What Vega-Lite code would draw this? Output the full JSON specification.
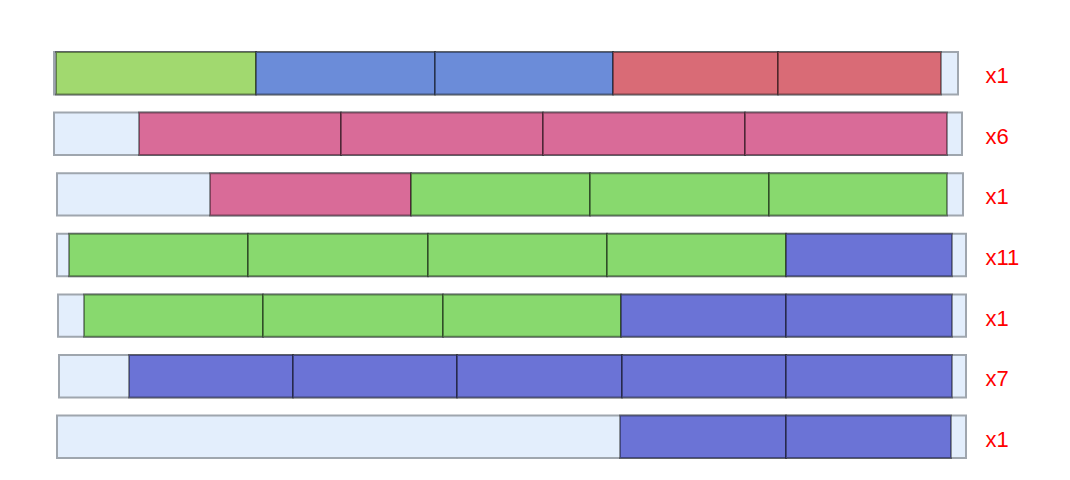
{
  "$schema": "https://vega.github.io/schema/vega-lite/v6.json",
  "width": 966,
  "height": 480,
  "autosize": "none",
  "padding": {"left": 0, "top": 0, "right": 104, "bottom": 0},
  "background": "white",
  "config": {"view": {"stroke": null}},
  "datasets": {
    "bars": [
      {"row": "1|x1", "start": 54, "end": 958},
      {"row": "2|x6", "start": 54, "end": 962},
      {"row": "3|x1", "start": 57, "end": 963},
      {"row": "4|x11", "start": 57, "end": 966},
      {"row": "5|x1", "start": 58, "end": 966},
      {"row": "6|x7", "start": 59, "end": 966},
      {"row": "7|x1", "start": 57, "end": 966}
    ],
    "segs": [
      {"row": "1|x1", "start": 56, "end": 256, "kind": "lime"},
      {"row": "1|x1", "start": 256, "end": 435, "kind": "blue"},
      {"row": "1|x1", "start": 435, "end": 613, "kind": "blue"},
      {"row": "1|x1", "start": 613, "end": 778, "kind": "red"},
      {"row": "1|x1", "start": 778, "end": 941, "kind": "red"},
      {"row": "2|x6", "start": 139, "end": 341, "kind": "pink"},
      {"row": "2|x6", "start": 341, "end": 543, "kind": "pink"},
      {"row": "2|x6", "start": 543, "end": 745, "kind": "pink"},
      {"row": "2|x6", "start": 745, "end": 947, "kind": "pink"},
      {"row": "3|x1", "start": 210, "end": 411, "kind": "pink"},
      {"row": "3|x1", "start": 411, "end": 590, "kind": "green"},
      {"row": "3|x1", "start": 590, "end": 769, "kind": "green"},
      {"row": "3|x1", "start": 769, "end": 947, "kind": "green"},
      {"row": "4|x11", "start": 69, "end": 248, "kind": "green"},
      {"row": "4|x11", "start": 248, "end": 428, "kind": "green"},
      {"row": "4|x11", "start": 428, "end": 607, "kind": "green"},
      {"row": "4|x11", "start": 607, "end": 786, "kind": "green"},
      {"row": "4|x11", "start": 786, "end": 952, "kind": "indigo"},
      {"row": "5|x1", "start": 84, "end": 263, "kind": "green"},
      {"row": "5|x1", "start": 263, "end": 443, "kind": "green"},
      {"row": "5|x1", "start": 443, "end": 621, "kind": "green"},
      {"row": "5|x1", "start": 621, "end": 786, "kind": "indigo"},
      {"row": "5|x1", "start": 786, "end": 952, "kind": "indigo"},
      {"row": "6|x7", "start": 129, "end": 293, "kind": "indigo"},
      {"row": "6|x7", "start": 293, "end": 457, "kind": "indigo"},
      {"row": "6|x7", "start": 457, "end": 622, "kind": "indigo"},
      {"row": "6|x7", "start": 622, "end": 786, "kind": "indigo"},
      {"row": "6|x7", "start": 786, "end": 952, "kind": "indigo"},
      {"row": "7|x1", "start": 620, "end": 786, "kind": "indigo"},
      {"row": "7|x1", "start": 786, "end": 951, "kind": "indigo"}
    ]
  },
  "encoding": {
    "y": {
      "field": "row",
      "type": "nominal",
      "sort": ["1|x1", "2|x6", "3|x1", "4|x11", "5|x1", "6|x7", "7|x1"],
      "scale": {"range": [52, 458], "paddingInner": 0.3, "paddingOuter": 0},
      "axis": {
        "orient": "right",
        "title": null,
        "domain": false,
        "ticks": false,
        "labelPadding": 19,
        "labelColor": "#ff0000",
        "labelFont": "Liberation Sans",
        "labelFontSize": 22,
        "labelAlign": "left",
        "labelOffset": 3,
        "labelExpr": "split(datum.label, '|')[1]"
      }
    },
    "x": {
      "field": "start",
      "type": "quantitative",
      "scale": {"domain": [0, 966], "nice": false, "zero": false},
      "axis": null
    },
    "x2": {"field": "end"}
  },
  "layer": [
    {
      "data": {"name": "bars"},
      "mark": {"type": "bar", "fill": "#e3eefc", "stroke": "#9fa6ae", "strokeWidth": 2, "cornerRadius": 0}
    },
    {
      "data": {"name": "segs"},
      "mark": {"type": "bar", "stroke": "#000000", "strokeOpacity": 0.4, "strokeWidth": 2, "cornerRadius": 0},
      "encoding": {
        "fill": {
          "field": "kind",
          "type": "nominal",
          "scale": {
            "domain": ["lime", "blue", "red", "pink", "green", "indigo"],
            "range": ["#a1d96f", "#6b8cd9", "#d96b76", "#d96b98", "#88d96e", "#6b73d6"]
          },
          "legend": null
        }
      }
    }
  ]
}
